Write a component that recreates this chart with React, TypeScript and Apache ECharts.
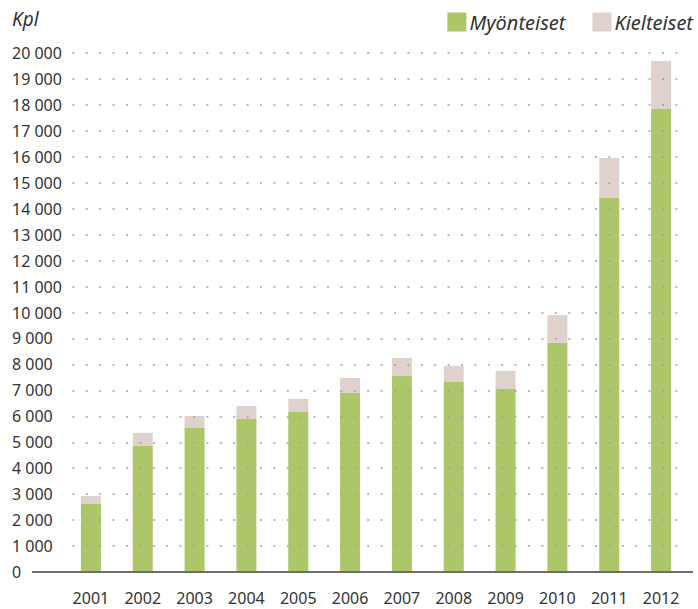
import React, { useEffect, useRef } from "react";
import * as echarts from "echarts";

const years = ["2001", "2002", "2003", "2004", "2005", "2006", "2007", "2008", "2009", "2010", "2011", "2012"];
const myonteiset = [2620, 4860, 5550, 5900, 6170, 6900, 7550, 7320, 7050, 8830, 14410, 17840];
const kielteiset = [310, 500, 460, 500, 500, 580, 700, 620, 700, 1070, 1540, 1850];
const yMax = 20000;
const yStep = 1000;

const FONT = "'Noto Sans', 'Open Sans', sans-serif";

function fmt(v: number): string {
  const s = String(Math.round(v));
  return s.replace(/\B(?=(\d{3})+(?!\d))/g, "\u00a0");
}

export default function App() {
  const ref = useRef<HTMLDivElement>(null);
  useEffect(() => {
    document.body.style.margin = "0";
    if (!ref.current) return;
    const chart = echarts.init(ref.current, undefined, { renderer: "svg" });
    chart.setOption({
      animation: false,
      backgroundColor: "#ffffff",
      textStyle: { fontFamily: FONT },
      grid: { left: 65, right: 11, top: 53, bottom: 37, containLabel: false },
      legend: {
        right: 0,
        top: 7,
        itemWidth: 19,
        itemHeight: 19,
        itemGap: 27,
        icon: "rect",
        textStyle: { fontSize: 20, fontStyle: "italic", color: "#333", fontFamily: FONT, padding: [0, 0, 0, -2] },
        data: ["Myönteiset", "Kielteiset"],
      },
      graphic: [
        {
          type: "text",
          left: 12,
          top: 9,
          style: { text: "Kpl", fontSize: 19, fontStyle: "italic", fill: "#333", fontFamily: FONT },
        },
        {
          type: "line",
          shape: { x1: 32, y1: 572, x2: 693, y2: 572 },
          style: { stroke: "#6e6e6e", lineWidth: 2 },
          z: 10,
        },
      ],
      xAxis: {
        type: "category",
        data: years,
        axisLine: { show: false },
        axisTick: { show: false },
        axisLabel: { color: "#333", fontSize: 16, margin: 18, fontFamily: FONT },
      },
      yAxis: {
        type: "value",
        min: 0,
        max: yMax,
        interval: yStep,
        z: 3,
        axisLine: { show: false },
        axisTick: { show: false },
        axisLabel: {
          color: "#333",
          fontSize: 16,
          align: "left",
          margin: 53,
          fontFamily: FONT,
          formatter: (v: number) => fmt(v),
        },
        splitLine: {
          show: true,
          lineStyle: { color: "rgba(160,160,160,0.75)", width: 2, type: [2, 11.4], dashOffset: 6.4 },
        },
      },
      series: [
        {
          name: "Myönteiset",
          type: "bar",
          stack: "total",
          data: myonteiset,
          barWidth: 20,
          itemStyle: { color: "#adc66a" },
        },
        {
          name: "Kielteiset",
          type: "bar",
          stack: "total",
          data: kielteiset,
          barWidth: 20,
          itemStyle: { color: "#dfd2cd" },
        },
      ],
    });
    return () => chart.dispose();
  }, []);
  return <div ref={ref} style={{ width: 698, height: 609 }} />;
}
